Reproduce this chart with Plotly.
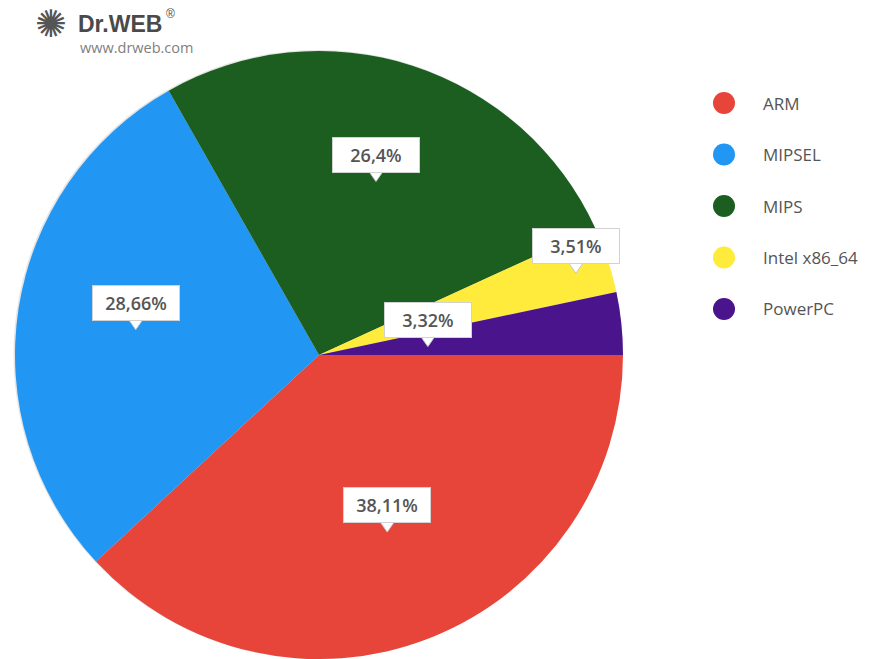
import math
import plotly.graph_objects as go

# ---- data ----
categories = ["ARM", "MIPSEL", "MIPS", "Intel x86_64", "PowerPC"]
shares = [38.11, 28.66, 26.4, 3.51, 3.32]
colors = ["#E8453A", "#2196F3", "#1B5E20", "#FFEB3B", "#4A148C"]
# radial position of value labels (fraction of radius)
label_radius = [0.615, 0.61, 0.61, 0.89, 0.36]

W, H = 882, 659


def px(x):
    return x / W


def py(y):
    return 1 - y / H


CX, CY, R = 319, 355, 304
FONT = "Open Sans"

fig = go.Figure()

# soft shadow around the pie
fig.add_trace(go.Pie(
    values=[1], marker=dict(colors=["#e4e4e4"], line=dict(width=0)),
    textinfo="none", hoverinfo="skip", showlegend=False, sort=False,
    domain=dict(x=[px(CX - R - 3), px(CX + R + 1)], y=[0, py(CY - R - 1)]),
))

fig.add_trace(go.Pie(
    labels=categories, values=shares,
    marker=dict(colors=colors, line=dict(width=0)),
    sort=False, direction="clockwise", rotation=90,
    textinfo="none", showlegend=False,
    domain=dict(x=[px(CX - R), px(CX + R)], y=[0, py(CY - R)]),
))

# value labels (white callout boxes)
total = sum(shares)
cum = 0.0
for v, f in zip(shares, label_radius):
    a = math.radians((cum + v / 2) / total * 360)
    cum += v
    tx = CX + f * R * math.cos(a)
    ty = CY + f * R * math.sin(a) + 3
    ph, pw = 9, 7
    fig.add_shape(
        type="path", xref="paper", yref="paper",
        path=f"M {px(tx - pw)} {py(ty - ph - 1)} L {px(tx)} {py(ty)} L {px(tx + pw)} {py(ty - ph - 1)} Z",
        fillcolor="white", line=dict(color="#c8c8c8", width=1), layer="above",
    )
    fig.add_annotation(
        x=px(tx), y=py(ty - ph), xref="paper", yref="paper",
        xanchor="center", yanchor="bottom", showarrow=False,
        text=f"{v:g}".replace(".", ",") + "%",
        width=72, height=20,
        bgcolor="white", bordercolor="#d2d2d2", borderwidth=1, borderpad=7,
        font=dict(family=FONT, size=18, color="#555555", weight=600),
    )

# legend (circles + labels)
for i, (c, col) in enumerate(zip(categories, colors)):
    yc = 103 + i * 51.5
    fig.add_shape(
        type="circle", xref="paper", yref="paper",
        x0=px(713), x1=px(735), y0=py(yc + 11), y1=py(yc - 11),
        fillcolor=col, line=dict(width=0),
    )
    fig.add_annotation(
        x=px(761), y=py(yc), xref="paper", yref="paper",
        xanchor="left", yanchor="middle", showarrow=False, text=c,
        font=dict(family=FONT, size=17, color="#555555"),
    )

# logo
fig.add_annotation(
    x=px(33), y=py(24), xref="paper", yref="paper", xanchor="left", yanchor="middle",
    showarrow=False, text="✺", font=dict(family="DejaVu Sans", size=38, color="#555555"),
)
fig.add_annotation(
    x=px(76), y=py(24), xref="paper", yref="paper", xanchor="left", yanchor="middle",
    showarrow=False, text="<b>Dr.WEB</b>",
    font=dict(family="Liberation Sans", size=23, color="#4a4a4a"),
)
fig.add_annotation(
    x=px(164), y=py(14), xref="paper", yref="paper", xanchor="left", yanchor="middle",
    showarrow=False, text="®",
    font=dict(family="Liberation Sans", size=12, color="#4a4a4a"),
)
fig.add_annotation(
    x=px(78), y=py(47), xref="paper", yref="paper", xanchor="left", yanchor="middle",
    showarrow=False, text="www.drweb.com",
    font=dict(family=FONT, size=14.5, color="#808080"),
)

fig.update_layout(
    width=W, height=H, margin=dict(l=0, r=0, t=0, b=0),
    paper_bgcolor="white", plot_bgcolor="white", showlegend=False,
)

fig.write_html("out.html")
